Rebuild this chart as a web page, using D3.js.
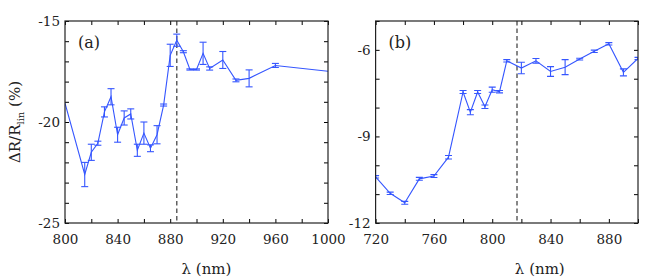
<!DOCTYPE html>
<html>
<head>
<meta charset="utf-8">
<script src="https://cdn.jsdelivr.net/npm/d3@7"></script>
<style>
  body { margin: 0; background: #fff; }
  text { font-family: "DejaVu Serif", "Liberation Serif", "Times New Roman", serif !important; fill: #222; }
</style>
</head>
<body>
<div id="chart"></div>
<script>
// panel (a) data
const lambdaA = [800, 815, 820, 825, 830, 835, 840, 845, 850, 855, 860, 865, 870, 875, 880, 885, 890, 895, 900, 905, 910, 920, 930, 940, 960, 1000];
const valueA = [-19.07, -22.6, -21.5, -21.05, -19.5, -18.75, -20.63, -19.8, -19.6, -21.4, -20.55, -21.3, -20.63, -19.16, -16.7, -15.95, -16.52, -17.4, -17.4, -16.6, -17.35, -16.93, -17.94, -17.84, -17.2, -17.49];
const errA = [0, 0.6, 0.4, 0.1, 0.25, 0.4, 0.37, 0.35, 0.25, 0.3, 0.55, 0.17, 0.45, 0.05, 0.55, 0.3, 0.05, 0.03, 0.03, 0.55, 0.08, 0.42, 0.07, 0.42, 0.1, 0];

// panel (b) data
const lambdaB = [720, 730, 740, 750, 760, 770, 780, 785, 790, 795, 800, 805, 810, 820, 830, 840, 850, 860, 870, 880, 890, 900];
const valueB = [-10.4, -10.97, -11.3, -10.47, -10.375, -9.72, -7.46, -8.16, -7.46, -7.97, -7.38, -7.45, -6.38, -6.63, -6.38, -6.75, -6.6, -6.32, -6.05, -5.79, -6.78, -6.3];
const errB = [0.04, 0.04, 0.05, 0.05, 0.05, 0.06, 0.05, 0.09, 0.05, 0.06, 0.09, 0.04, 0.04, 0.2, 0.08, 0.17, 0.26, 0.03, 0.04, 0.04, 0.12, 0.04];

const xTicksA = [800, 840, 880, 920, 960, 1000];
const yTicksA = [-15, -20, -25];
const xTicksB = [720, 760, 800, 840, 880];
const yTicksB = [-6, -9, -12];

const svgWidth = 654;
const svgHeight = 279;
const lineColor = "#3556ff";

const svg = d3.select("#chart")
    .append("svg")
    .attr("width", svgWidth)
    .attr("height", svgHeight);

function drawPanel(opts) {
    const x = d3.scaleLinear().domain(opts.xDomain).range([opts.left, opts.right]);
    const y = d3.scaleLinear().domain(opts.yDomain).range([opts.bottom, opts.top]);
    const g = svg.append("g");

    const clipId = "clip-" + opts.name;
    g.append("clipPath")
        .attr("id", clipId)
        .append("rect")
        .attr("x", opts.left)
        .attr("y", opts.top)
        .attr("width", opts.right - opts.left)
        .attr("height", opts.bottom - opts.top);

    // minor ticks, inward on all four sides
    const xMinor = d3.range(opts.xDomain[0], opts.xDomain[1] + 0.1, 20);
    const yMinor = d3.range(opts.yDomain[0], opts.yDomain[1] + 0.1, 1);
    const tickLen = 4;

    g.append("g")
        .attr("transform", `translate(0,${opts.bottom})`)
        .call(d3.axisBottom(x).tickValues(xMinor).tickSize(-tickLen).tickFormat(""))
        .call(a => a.select(".domain").remove());
    g.append("g")
        .attr("transform", `translate(0,${opts.top})`)
        .call(d3.axisTop(x).tickValues(xMinor).tickSize(-tickLen).tickFormat(""))
        .call(a => a.select(".domain").remove());
    g.append("g")
        .attr("transform", `translate(${opts.left},0)`)
        .call(d3.axisLeft(y).tickValues(yMinor).tickSize(-tickLen).tickFormat(""))
        .call(a => a.select(".domain").remove());
    g.append("g")
        .attr("transform", `translate(${opts.right},0)`)
        .call(d3.axisRight(y).tickValues(yMinor).tickSize(-tickLen).tickFormat(""))
        .call(a => a.select(".domain").remove());

    // tick labels
    g.append("g")
        .attr("transform", `translate(0,${opts.bottom})`)
        .call(d3.axisBottom(x).tickValues(opts.xTicks).tickSize(0).tickPadding(11).tickFormat(d3.format("d")))
        .call(a => a.select(".domain").remove())
        .selectAll("text")
        .style("font-size", "13.5px")
        .attr("fill", "#222");
    g.append("g")
        .attr("transform", `translate(${opts.left},0)`)
        .call(d3.axisLeft(y).tickValues(opts.yTicks).tickSize(0).tickPadding(5).tickFormat(d => "-" + Math.abs(d)))
        .call(a => a.select(".domain").remove())
        .selectAll("text")
        .style("font-size", "13.5px")
        .attr("fill", "#222");

    // dashed marker line
    g.append("line")
        .attr("x1", x(opts.marker))
        .attr("x2", x(opts.marker))
        .attr("y1", opts.top)
        .attr("y2", opts.bottom)
        .attr("stroke", "#555")
        .attr("stroke-width", 1.4)
        .attr("stroke-dasharray", "4.5,3");

    const pts = opts.lambda.map((l, i) => ({ l: l, v: opts.values[i], e: opts.errs[i] }));
    const plot = g.append("g").attr("clip-path", `url(#${clipId})`);

    plot.append("path")
        .datum(pts)
        .attr("fill", "none")
        .attr("stroke", lineColor)
        .attr("stroke-width", 1.1)
        .attr("d", d3.line().x(d => x(d.l)).y(d => y(d.v)));

    const bars = plot.selectAll(".err")
        .data(pts.filter(d => d.e > 0))
        .enter()
        .append("g")
        .attr("stroke", lineColor)
        .attr("stroke-width", 1.1);
    bars.append("line")
        .attr("x1", d => x(d.l)).attr("x2", d => x(d.l))
        .attr("y1", d => y(d.v - d.e)).attr("y2", d => y(d.v + d.e));
    bars.append("line")
        .attr("x1", d => x(d.l) - 3.5).attr("x2", d => x(d.l) + 3.5)
        .attr("y1", d => y(d.v - d.e)).attr("y2", d => y(d.v - d.e));
    bars.append("line")
        .attr("x1", d => x(d.l) - 3.5).attr("x2", d => x(d.l) + 3.5)
        .attr("y1", d => y(d.v + d.e)).attr("y2", d => y(d.v + d.e));

    // frame
    g.append("rect")
        .attr("x", opts.left)
        .attr("y", opts.top)
        .attr("width", opts.right - opts.left)
        .attr("height", opts.bottom - opts.top)
        .attr("fill", "none")
        .attr("stroke", "#222")
        .attr("stroke-width", 1.2);

    g.append("text")
        .attr("x", opts.left + 13)
        .attr("y", opts.top + 27)
        .style("font-size", "16px")
        .text(opts.label);

    g.append("text")
        .attr("x", (opts.left + opts.right) / 2 + opts.titleShift)
        .attr("y", 274)
        .attr("text-anchor", "middle")
        .style("font-size", "15px")
        .text("λ (nm)");
}

drawPanel({
    name: "a", left: 65, right: 328, top: 21, bottom: 223,
    xDomain: [800, 1000], yDomain: [-25, -15],
    xTicks: xTicksA, yTicks: yTicksA, marker: 885,
    lambda: lambdaA, values: valueA, errs: errA, label: "(a)", titleShift: 10
});

drawPanel({
    name: "b", left: 375.6, right: 638, top: 21, bottom: 223,
    xDomain: [720, 900], yDomain: [-12, -5],
    xTicks: xTicksB, yTicks: yTicksB, marker: 817,
    lambda: lambdaB, values: valueB, errs: errB, label: "(b)", titleShift: 33
});

// y axis title
const yTitle = svg.append("text")
    .attr("transform", "translate(20,122) rotate(-90)")
    .attr("text-anchor", "middle")
    .style("font-size", "15px");
yTitle.append("tspan").text("ΔR/R");
yTitle.append("tspan").attr("dy", 4).style("font-size", "10px").text("lin");
yTitle.append("tspan").attr("dy", -4).text(" (%)");
</script>
</body>
</html>
